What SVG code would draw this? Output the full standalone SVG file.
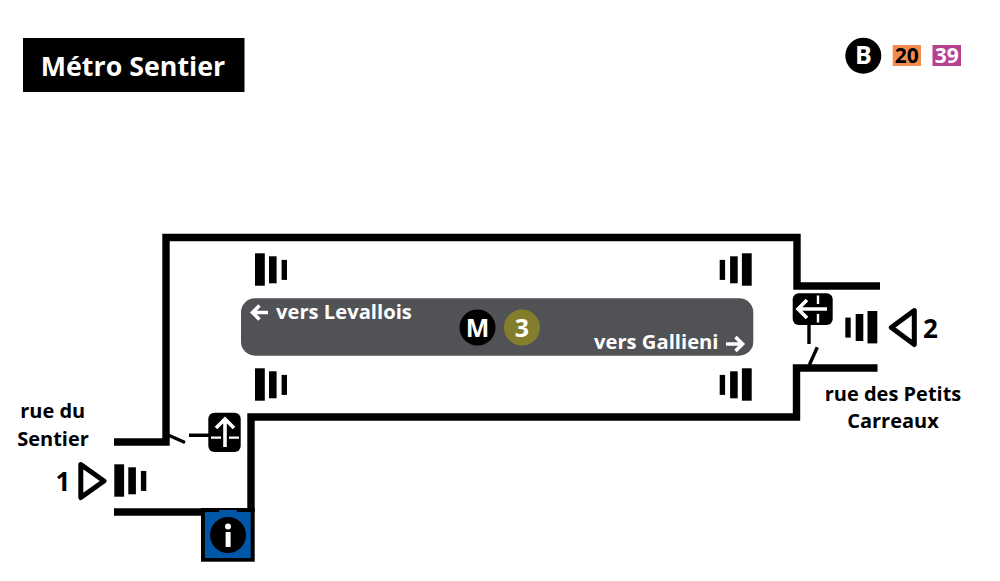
<svg xmlns="http://www.w3.org/2000/svg" width="1000" height="581" viewBox="0 0 1000 581">
<style>
text{font-family:"Open Sans","Liberation Sans",sans-serif;font-weight:700}
.k{fill:#000}.w{fill:#fff}
.l{font-size:20px;fill:#000;text-anchor:middle}
.d{font-size:26px;fill:#000;text-anchor:middle}
.p{font-size:20.200px;fill:#fff}
.c{font-size:25px;text-anchor:middle}
.b{font-size:21px;text-anchor:middle}
.wall{fill:none;stroke:#000;stroke-width:7.4;stroke-linejoin:miter}
.thin{fill:none;stroke:#000;stroke-width:3.4}
.tri{fill:none;stroke:#000;stroke-width:5;stroke-linejoin:round}
.wl{fill:none;stroke:#fff;stroke-width:2.400}
.wa{fill:none;stroke:#fff;stroke-width:3.600;stroke-linejoin:miter}
</style>
<defs>
<g id="st"><rect x="0" y="0" width="9.800" height="32.400"/><rect x="14" y="3" width="7.600" height="27"/><rect x="26.600" y="6.600" width="5.400" height="20"/></g>
</defs>
<g id="title"><rect x="23" y="38" width="221.500" height="54"/><text x="133" y="76" class="w" font-size="26.800" text-anchor="middle">Métro Sentier</text></g>
<g id="bus-b"><circle cx="863.300" cy="55.700" r="18"/><text x="863.300" y="64.300" class="w c">B</text></g>
<g id="bus-20"><rect x="892.700" y="45" width="28.300" height="21" fill="#f58b4f"/><text x="906.800" y="63" class="k b">20</text></g>
<g id="bus-39"><rect x="932.500" y="45" width="28.500" height="21" fill="#b5418f"/><text x="946.800" y="63" class="w b">39</text></g>
<g id="connectors">
<path class="wall" d="M114 442H166V237.500H797V286H880"/>
<path class="wall" d="M877.500 368H796.500V417H251V512"/>
<path class="wall" d="M114 512H205"/>
<path class="thin" d="M168 435L185 442.500M189 435.300H209M809 325V344M817.300 347.300L809.300 365"/>
</g>
<g id="info"><rect x="201" y="508" width="53.700" height="53.700" class="k"/><rect x="205" y="512" width="45.700" height="46" fill="#0057a8"/><rect x="219" y="510" width="18" height="3" fill="#0057a8"/><circle cx="228" cy="535" r="18"/><rect x="225.600" y="532" width="5" height="15" class="w"/><circle cx="228" cy="526.500" r="3" class="w"/></g>
<g id="door-left"><rect x="208.300" y="412.700" width="32.400" height="39.300" rx="6" class="k"/><path class="wl" d="M211 437.600H221M229 437.600H239"/><path class="wa" d="M225 420V447M216 428L225 419L234 428"/></g>
<g id="door-right"><rect x="792.700" y="293.300" width="40" height="31.700" rx="6" class="k"/><path class="wl" d="M818 295.500V304M818 314V322.500"/><path class="wa" d="M800 309H827M807 300L798 309L807 318"/></g>
<g id="entrance-1"><use href="#st" x="114.300" y="464.300"/><path class="tri" d="M80.800 464.500L104 481L80.800 497.500Z"/><text x="63" y="491" class="d">1</text><text x="52.700" y="418.300" class="l">rue du</text><text x="53" y="446" class="l">Sentier</text></g>
<g id="entrance-2"><use href="#st" transform="translate(877.300 311) scale(-1 1)"/><path class="tri" d="M914.300 310.500L891.300 327.500L914.300 344.500Z"/><text x="930.500" y="337.700" class="d">2</text><text x="893" y="401" class="l">rue des Petits</text><text x="893" y="427.500" class="l">Carreaux</text></g>
<g id="stairs-tl"><use href="#st" x="255" y="253.300"/></g>
<g id="stairs-bl"><use href="#st" x="255" y="368.300"/></g>
<g id="stairs-tr"><use href="#st" transform="translate(751.700 253.300) scale(-1 1)"/></g>
<g id="stairs-br"><use href="#st" transform="translate(751.700 368.300) scale(-1 1)"/></g>
<g id="platform"><rect x="241" y="298.300" width="512.300" height="57.400" rx="14" fill="#515256"/>
<path class="wa" d="M268 312.500H253M259.500 305.500L252.500 312.500L259.500 319.500"/>
<text x="276" y="318.500" class="p">vers Levallois</text>
<text x="594" y="349" class="p">vers Gallieni</text>
<path class="wa" d="M726 344H741M735.500 337L742.500 344L735.500 351"/></g>
<g id="metro"><circle cx="477.500" cy="327.500" r="18"/><text x="477.500" y="336.500" class="w c">M</text></g>
<g id="line-3"><circle cx="522" cy="327.500" r="18" fill="#837e2b"/><text x="522" y="336.500" class="w c">3</text></g>
</svg>
